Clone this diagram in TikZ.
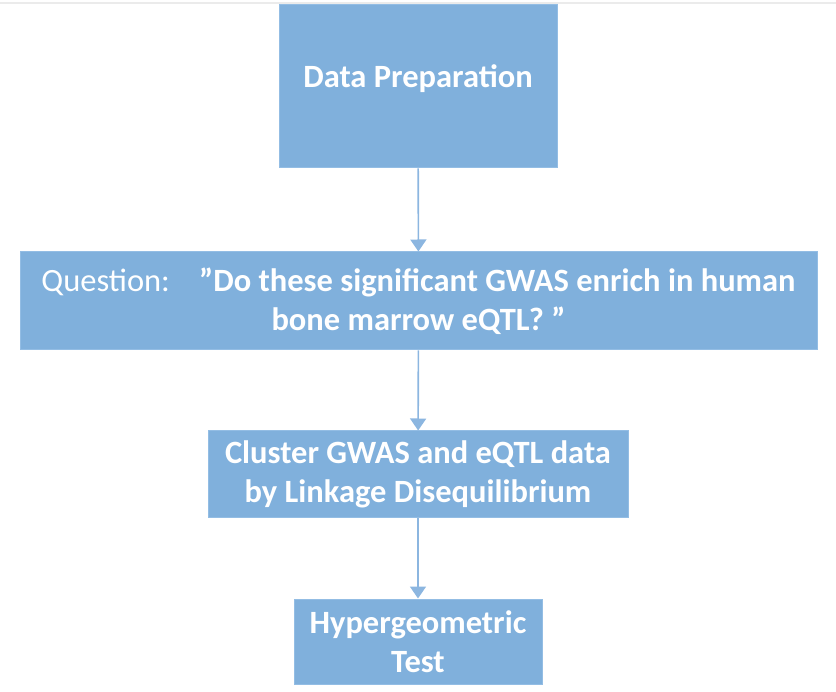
\documentclass[tikz,border=0pt]{standalone}
\usepackage{fontspec}
\setmainfont{Carlito}
\usetikzlibrary{arrows.meta}
\definecolor{boxfill}{HTML}{80B0DC}
\definecolor{boxline}{HTML}{93BDE4}
\definecolor{arrowc}{HTML}{8CB6E0}
\tikzset{
  box/.style={fill=boxfill, draw=boxline, line width=1pt, inner sep=0pt, text=white, align=center,
    font=\fontsize{32.5}{39}\selectfont\bfseries},
  flow/.style={draw=arrowc, line width=1.6pt, -{Triangle[width=16pt,length=12pt]}}
}
\begin{document}
\begin{tikzpicture}[x=1pt,y=-1pt]
\useasboundingbox (0,0) rectangle (836,692);
\draw[black!8, line width=1.5pt] (0,3) -- (836,3);
\node[box, minimum width=278pt, minimum height=163pt,
  label={[yshift=8pt, text=white, font=\fontsize{32.5}{39}\selectfont\bfseries]center:Data Preparation}] (prep) at (418,86.5) {};
\node[box, minimum width=797pt, minimum height=98pt] (q) at (418.5,301)
  {{\mdseries Question:}\hspace{0.9em}”Do these significant GWAS enrich in human\\bone marrow eQTL? ”};
\node[box, minimum width=420pt, minimum height=87pt] (cl) at (418,474.5)
  {Cluster GWAS and eQTL data\\by Linkage Disequilibrium};
\node[box, minimum width=248pt, minimum height=85pt] (hy) at (418,641.5)
  {Hypergeometric\\Test};
\draw[flow] (prep) -- (q);
\draw[flow] (q) -- (cl);
\draw[flow] (cl) -- (hy);
\end{tikzpicture}
\end{document}
